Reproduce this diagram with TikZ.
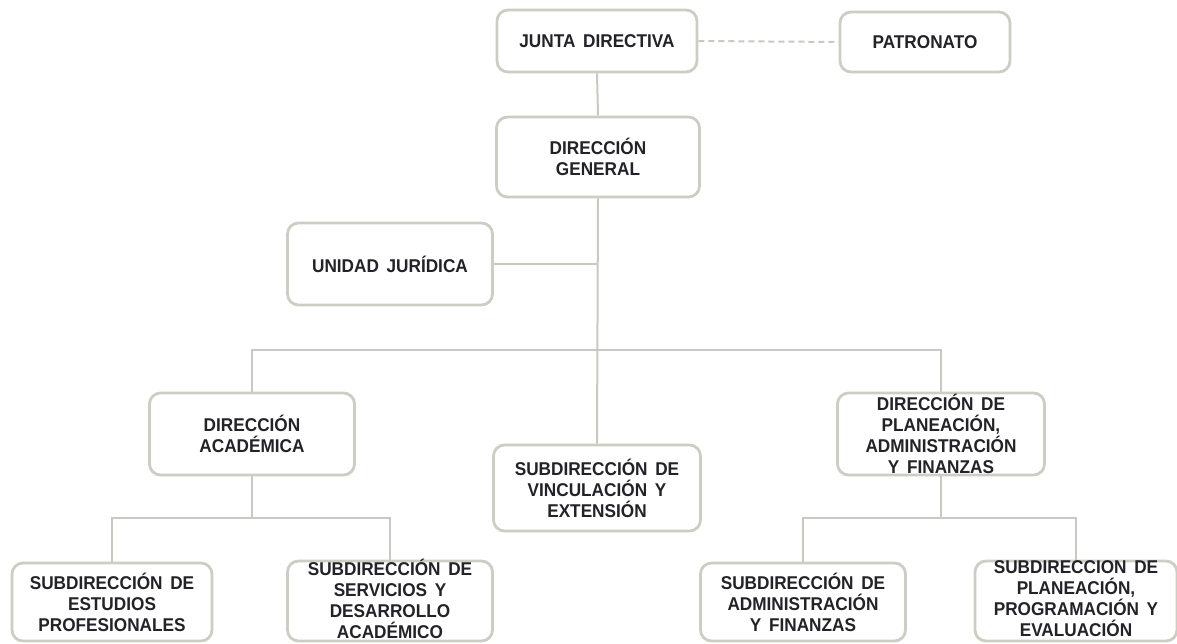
\documentclass[tikz,border=0pt]{standalone}
\usepackage{fontspec}
\setmainfont{Liberation Sans}[FakeStretch=0.93, WordSpace=1.6]
\definecolor{boxc}{HTML}{CDCDC4}
\definecolor{linec}{HTML}{C9C9C1}
\definecolor{txt}{HTML}{222228}
\tikzset{
  box/.style={draw=boxc, line width=2.8pt, rounded corners=11pt, fill=white, inner sep=0pt},
  conn/.style={draw=linec, line width=2pt},
  dconn/.style={draw=linec, line width=2pt, dash pattern=on 6pt off 4pt},
  lbl/.style={font=\bfseries\fontsize{18.5}{21}\selectfont, text=txt, align=center, inner sep=0pt},
}
\begin{document}
\begin{tikzpicture}[x=1pt,y=-1pt]
\useasboundingbox (0,0) rectangle (1177,644);
% boxes
\node[box, minimum width=200pt, minimum height=62pt] (jd) at (597,41) {};
\node[box, minimum width=170pt, minimum height=60pt] (pat) at (925,42) {};
\node[box, minimum width=203pt, minimum height=80pt] (dg) at (598,157) {};
\node[box, minimum width=205pt, minimum height=82pt] (uj) at (390,264) {};
\node[box, minimum width=205pt, minimum height=82pt] (da) at (252,434) {};
\node[box, minimum width=207pt, minimum height=82pt] (dp) at (941,434) {};
\node[box, minimum width=207pt, minimum height=86pt] (vi) at (597,488) {};
\node[box, minimum width=200pt, minimum height=78pt] (se) at (112,602) {};
\node[box, minimum width=205pt, minimum height=80pt] (ss) at (390,601) {};
\node[box, minimum width=205pt, minimum height=78pt] (sa) at (803,602) {};
\node[box, minimum width=202pt, minimum height=80pt] (sp) at (1076,601) {};
% labels
\node[lbl] (tjd) at (jd) {JUNTA DIRECTIVA};
\node[lbl] (tpat) at (pat) {PATRONATO};
\node[lbl] (tdg) at (dg) {DIRECCIÓN\\GENERAL};
\node[lbl] (tuj) at (uj) {UNIDAD JURÍDICA};
\node[lbl] (tda) at (da) {DIRECCIÓN\\ACADÉMICA};
\node[lbl] (tdp) at (dp) {DIRECCIÓN DE\\PLANEACIÓN,\\ADMINISTRACIÓN\\Y FINANZAS};
\node[lbl] (tvi) at (vi) {SUBDIRECCIÓN DE\\VINCULACIÓN Y\\EXTENSIÓN};
\node[lbl] (tse) at (se) {SUBDIRECCIÓN DE\\ESTUDIOS\\PROFESIONALES};
\node[lbl] (tss) at ([yshift=2pt]ss.center) {SUBDIRECCIÓN DE\\SERVICIOS Y\\DESARROLLO\\ACADÉMICO};
\node[lbl] (tsa) at (sa) {SUBDIRECCIÓN DE\\ADMINISTRACIÓN\\Y FINANZAS};
\node[lbl] (tsp) at ([yshift=2pt]sp.center) {SUBDIRECCION DE\\PLANEACIÓN,\\PROGRAMACIÓN Y\\EVALUACIÓN};
% bus coordinates
\coordinate (bus) at (597,350);
\coordinate (ujc) at (597,264);
\coordinate (lb) at (252,518);
\coordinate (rb) at (941,518);
% connectors
\draw[dconn] (jd.east) -- (pat.west);
\draw[conn] (jd.south) -- (dg.north);
\draw[conn] (dg.south) -- (vi.north);
\draw[conn] (uj.east) -- (ujc);
\draw[conn] (da.north) -- (da.north |- bus) -- (dp.north |- bus) -- (dp.north);
\draw[conn] (da.south) -- (lb);
\draw[conn] (se.north) -- (se.north |- lb) -- (ss.north |- lb) -- (ss.north);
\draw[conn] (dp.south) -- (rb);
\draw[conn] (sa.north) -- (sa.north |- rb) -- (sp.north |- rb) -- (sp.north);
\end{tikzpicture}
\end{document}
